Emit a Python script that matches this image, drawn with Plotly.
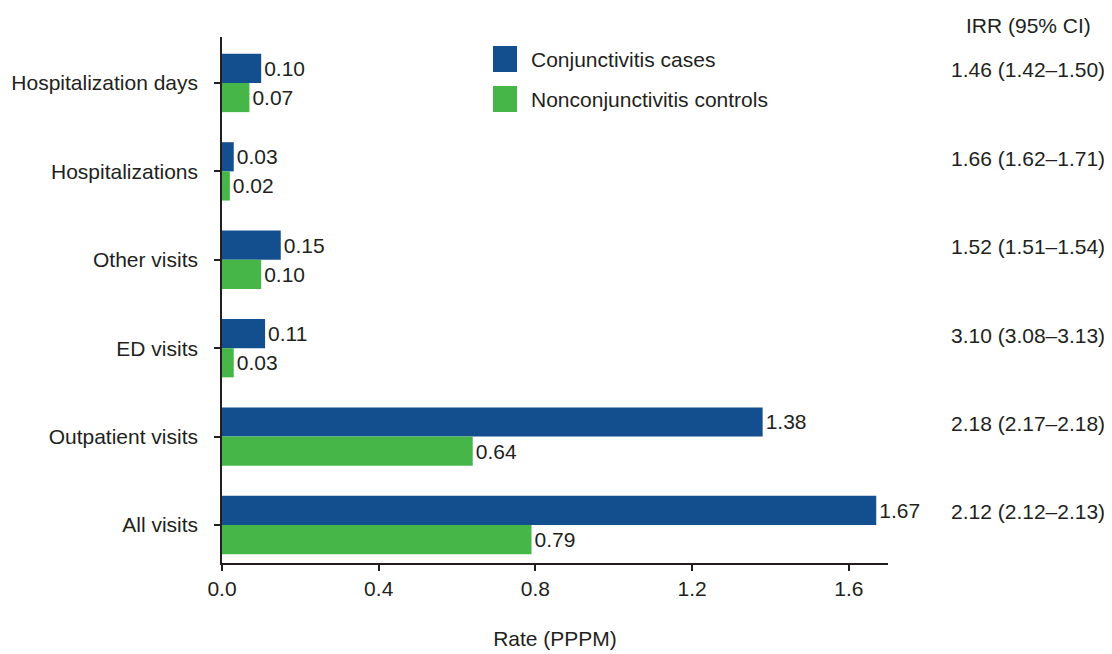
import plotly.graph_objects as go

categories = ["Hospitalization days", "Hospitalizations", "Other visits",
              "ED visits", "Outpatient visits", "All visits"]
cases = [0.10, 0.03, 0.15, 0.11, 1.38, 1.67]
controls = [0.07, 0.02, 0.10, 0.03, 0.64, 0.79]
irr_labels = ["1.46 (1.42–1.50)", "1.66 (1.62–1.71)", "1.52 (1.51–1.54)",
              "3.10 (3.08–3.13)", "2.18 (2.17–2.18)", "2.12 (2.12–2.13)"]
series_names = ["Conjunctivitis cases", "Nonconjunctivitis controls"]
x_ticks = [0.0, 0.4, 0.8, 1.2, 1.6]

BLUE = "#134f8f"
GREEN = "#46b649"
TXT = "#231f20"
FONT = "Liberation Sans, Arial, sans-serif"
FS = 21

# page body has an 8px margin; plot area spans x 222..888, y 37..563 on the page
OFF = 8
PL, PR, PT, PB = 222, 888, 37, 563
W, H = 1112 - OFF, 654 - OFF
PW, PH = PR - PL, PB - PT


def px(x):
    return (x - PL) / PW


def py(y):
    return (PB - y) / PH


fig = go.Figure()
for name, vals, col in [(series_names[0], cases, BLUE), (series_names[1], controls, GREEN)]:
    fig.add_trace(go.Bar(
        y=categories, x=vals, orientation="h", name=name,
        marker=dict(color=col, line=dict(width=0)),
        text=[f"{v:.2f}" for v in vals], textposition="outside",
        textfont=dict(size=FS, color=TXT, family=FONT),
        cliponaxis=False, showlegend=False,
    ))

# legend drawn as swatches + labels
for i, (name, col) in enumerate([(series_names[0], BLUE), (series_names[1], GREEN)]):
    top = 46 + i * 40
    fig.add_shape(type="rect", xref="paper", yref="paper",
                  x0=px(493), x1=px(517), y0=py(top + 26), y1=py(top),
                  fillcolor=col, line=dict(width=0))
    fig.add_annotation(xref="paper", yref="paper", x=px(529), y=py(top + 13),
                       text=name, showarrow=False, xanchor="left", yanchor="middle",
                       font=dict(size=FS, color=TXT, family=FONT))

for cat, lab in zip(categories, irr_labels):
    fig.add_annotation(xref="paper", yref="y", x=px(1028), y=cat, yshift=13,
                       text=lab, showarrow=False, xanchor="center", yanchor="middle",
                       font=dict(size=FS, color=TXT, family=FONT))
fig.add_annotation(xref="paper", yref="paper", x=px(1028), y=py(25),
                   text="IRR (95% CI)", showarrow=False, xanchor="center", yanchor="middle",
                   font=dict(size=FS, color=TXT, family=FONT))

fig.update_layout(
    width=W, height=H,
    margin=dict(l=PL - OFF, r=W - (PR - OFF), t=PT - OFF, b=H - (PB - OFF), autoexpand=False),
    paper_bgcolor="white", plot_bgcolor="white",
    barmode="group", bargap=0.34, bargroupgap=0,
    font=dict(family=FONT, size=FS, color=TXT),
    showlegend=False,
    xaxis=dict(range=[0, 1.7], tickvals=x_ticks, ticktext=[f"{t:.1f}" for t in x_ticks],
               ticks="outside", ticklen=6, tickwidth=1.5, tickcolor=TXT,
               showline=True, linecolor=TXT, linewidth=1.5,
               showgrid=False, zeroline=False, automargin=False,
               title=dict(text="Rate (PPPM)", standoff=32, font=dict(size=FS)),
               tickfont=dict(size=FS)),
    yaxis=dict(categoryorder="array", categoryarray=categories,
               range=[5.43, -0.52],
               ticks="outside", ticklen=6, tickwidth=1.5, tickcolor=TXT,
               showline=True, linecolor=TXT, linewidth=1.5,
               showgrid=False, zeroline=False, ticklabelstandoff=12, automargin=False,
               tickfont=dict(size=FS)),
)

fig.write_html("out.html")
